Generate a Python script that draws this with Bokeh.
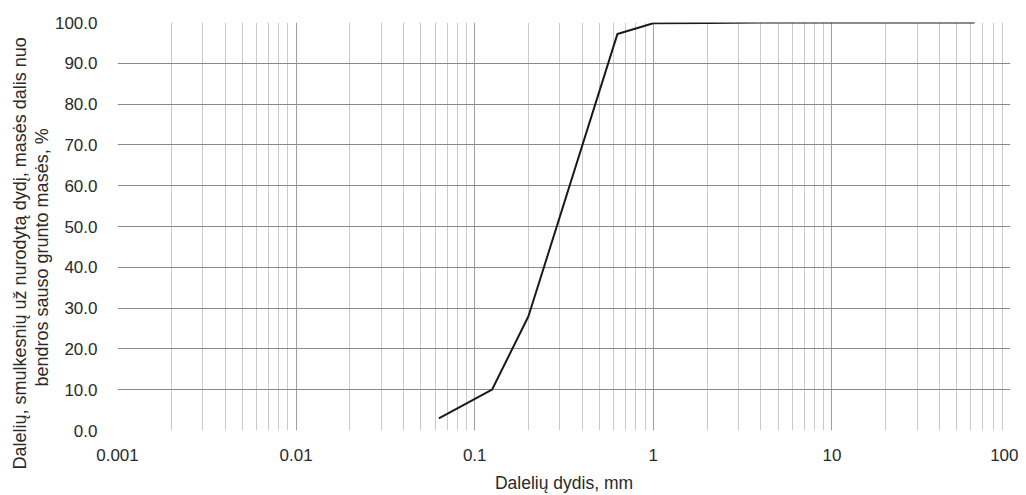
from bokeh.plotting import figure
from bokeh.models import FixedTicker, Range1d, Title
from bokeh.embed import file_html
from bokeh.resources import INLINE

# Data
sizes_mm = [0.063, 0.125, 0.2, 0.63, 1, 2, 4, 8, 16, 31.5, 63]
passing_pct = [3.0, 10.0, 28.0, 97.2, 99.8, 99.9, 100, 100, 100, 100, 100]

x_ticks = [0.001, 0.01, 0.1, 1, 10, 100]
x_tick_labels = ["0.001", "0.01", "0.1", "1", "10", "100"]
y_ticks = [0, 10, 20, 30, 40, 50, 60, 70, 80, 90, 100]
y_tick_labels = ["%.1f" % v for v in y_ticks]
y_title_lines = ["Dalelių, smulkesnių už nurodytą dydį, masės dalis nuo",
                 "bendros sauso grunto masės, %"]

minor = []
for d in x_ticks[:-1]:
    for k in range(2, 10):
        minor.append(d * k)

FONT = "Liberation Sans"
TXT = "#2a2a2a"

p = figure(width=1018, height=495, x_axis_type="log",
           x_range=Range1d(0.001, 100), y_range=Range1d(0, 100),
           output_backend="svg", toolbar_location=None,
           min_border_left=117, min_border_right=8,
           min_border_top=22, min_border_bottom=63)
p.outline_line_color = None
p.background_fill_color = "white"

p.xaxis.ticker = FixedTicker(ticks=x_ticks, minor_ticks=minor)
p.xaxis.major_label_overrides = {t: l for t, l in zip(x_ticks, x_tick_labels)}
p.yaxis.ticker = FixedTicker(ticks=y_ticks)
p.yaxis.major_label_overrides = {t: l for t, l in zip(y_ticks, y_tick_labels)}

for ax in (p.xaxis[0], p.yaxis[0]):
    ax.axis_line_color = None
    ax.major_tick_line_color = None
    ax.minor_tick_line_color = None
    ax.major_label_text_font = FONT
    ax.major_label_text_font_size = "17px"
    ax.major_label_text_color = TXT
    ax.axis_label_text_font = FONT
    ax.axis_label_text_font_size = "17.5px"
    ax.axis_label_text_font_style = "normal"
    ax.axis_label_text_color = TXT

p.xaxis.axis_label = "Dalelių dydis, mm"
p.xaxis.major_label_standoff = 12
p.xaxis.axis_label_standoff = 9
p.yaxis.major_label_standoff = 14

# two-line y title, each line starting from the bottom as in the original
offsets = [-39, 44]
for line, off in reversed(list(zip(y_title_lines, offsets))):
    t = Title(text=line, align="left", offset=off,
              text_font=FONT, text_font_size="18px", text_font_style="normal",
              text_color=TXT, standoff=0)
    p.add_layout(t, "left")

p.xgrid.grid_line_color = "#a0a0a0"
p.xgrid.grid_line_width = 1
p.xgrid.minor_grid_line_color = "#cacaca"
p.xgrid.minor_grid_line_width = 1
p.ygrid.grid_line_color = "#8a8a8a"
p.ygrid.grid_line_width = 1.2

p.line(sizes_mm, passing_pct, line_color="#1a1a1a", line_width=2)

open("out.html", "w").write(file_html(p, INLINE))
